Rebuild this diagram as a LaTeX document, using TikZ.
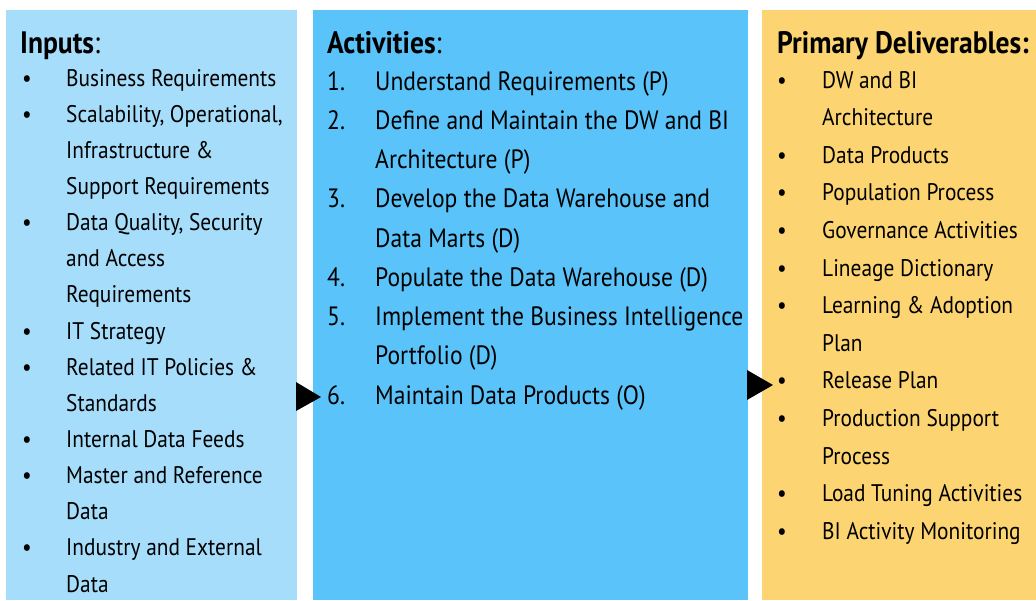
\documentclass[tikz,border=0pt]{standalone}
\usepackage{fontspec}
\setmainfont{PT Sans}[FakeStretch=0.89]
\usepackage{xcolor}
\usetikzlibrary{positioning}
\definecolor{inputblue}{RGB}{166,221,250}
\definecolor{activityblue}{RGB}{90,196,250}
\definecolor{deliveryellow}{RGB}{252,213,114}

\begin{document}
\begin{tikzpicture}[x=1pt, y=-1pt,
  colbox/.style={anchor=north west, inner sep=0pt, minimum height=590pt},
  item/.style={anchor=base west, inner sep=0pt, font=\fontsize{24}{28}\selectfont},
  actitem/.style={item, font=\fontsize{26.5}{30}\selectfont},
  head/.style={anchor=base west, inner sep=0pt, font=\fontsize{31}{34}\selectfont}]
\useasboundingbox (0,0) rectangle (1036,600);
\fill[white] (0,0) rectangle (1036,600);
% the three columns
\node[colbox, fill=inputblue, minimum width=291pt] (inputs) at (6,10) {};
\node[colbox, fill=activityblue, minimum width=435pt] (activities) at (313,10) {};
\node[colbox, fill=deliveryellow, minimum width=274pt] (deliverables) at (762,10) {};
\fill (296,382) -- (321,397) -- (296,411) -- cycle;
\fill (747,370) -- (773,385) -- (747,400) -- cycle;

\begin{scope}
\node[head] (inhead) at (20,53) {\textbf{Inputs}:};
\foreach \txt [count=\i] in {Business Requirements, {Scalability, Operational,},
    Infrastructure \&, Support Requirements, {Data Quality, Security}, and Access,
    Requirements, IT Strategy, Related IT Policies \&, Standards,
    Internal Data Feeds, Master and Reference, Data, Industry and External, Data}
  \node[item] (in\i) at (66,{86+(\i-1)*36.15}) {\txt};
\foreach \i in {1,2,5,8,9,11,12,14}
  \node[item] (inb\i) at (22,{86+(\i-1)*36.15}) {\textbullet};
\end{scope}

\begin{scope}
\node[head] (acthead) at (327,53) {\textbf{Activities}:};
\foreach \txt [count=\i] in {Understand Requirements (P), Define and Maintain the DW and BI,
    Architecture (P), Develop the Data Warehouse and, Data Marts (D),
    Populate the Data Warehouse (D), Implement the Business Intelligence,
    Portfolio (D), Maintain Data Products (O)}
  \node[actitem] (act\i) at (375,{90+(\i-1)*39.25}) {\txt};
\foreach \i/\num in {1/1,2/2,4/3,6/4,7/5,9/6}
  \node[actitem] (actn\i) at (327,{90+(\i-1)*39.25}) {\num.};
\end{scope}

\begin{scope}
\node[head] (delhead) at (777,53) {\textbf{Primary Deliverables:}};
\foreach \txt [count=\i] in {DW and BI, Architecture, Data Products, Population Process,
    Governance Activities, Lineage Dictionary, Learning \& Adoption, Plan,
    Release Plan, Production Support, Process, Load Tuning Activities,
    BI Activity Monitoring}
  \node[item] (del\i) at (822,{88+(\i-1)*37.6}) {\txt};
\foreach \i in {1,3,4,5,6,7,9,10,12,13}
  \node[item] (delb\i) at (777,{88+(\i-1)*37.6}) {\textbullet};
\end{scope}
\end{tikzpicture}
\end{document}
